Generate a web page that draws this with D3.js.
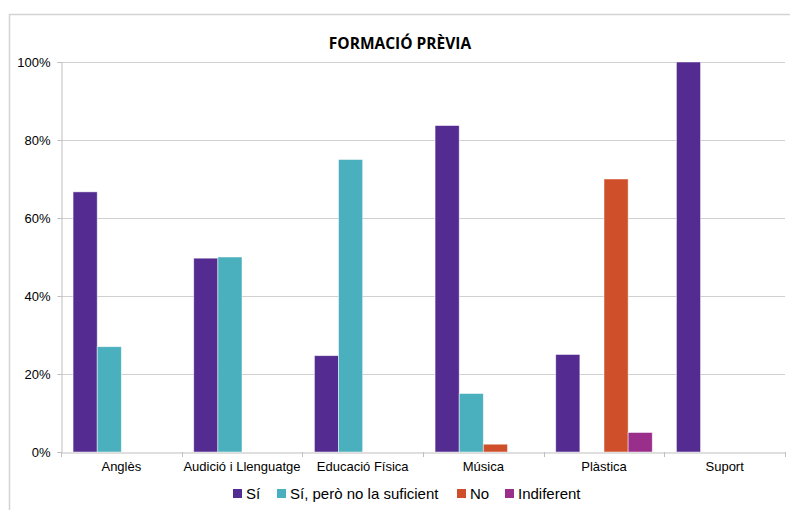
<!DOCTYPE html>
<html><head><meta charset="utf-8">
<script src="https://cdn.jsdelivr.net/npm/d3@7"></script>
<style>body{margin:0;background:#fff}svg{display:block}</style>
</head><body><svg id="c" width="790" height="510"></svg>
<script>
const categories = ["Anglès","Audició i Llenguatge","Educació Física","Música","Plàstica","Suport"];
const seriesNames = ["Sí","Sí, però no la suficient","No","Indiferent"];
const si =         [66.7, 49.7, 24.7, 83.7, 25, 100];
const siPeroNo =   [27,   50,   75,   15,   0,  0];
const no =         [0,    0,    0,    2,    70, 0];
const indiferent = [0,    0,    0,    0,    5,  0];
const yTicks = [0,20,40,60,80,100];
const colors = ["#532b91","#4bb0bd","#cf4f2b","#9a2f8b"];
const seriesValues = [si, siPeroNo, no, indiferent];

const svg = d3.select("#c");
// frame
svg.append("path").attr("d","M9.5,520V14.5H800").attr("fill","none").attr("stroke","#d4d4d4").attr("stroke-width",1.5);

const m = {l:61,r:785,t:62,b:452};
const x = d3.scaleBand().domain(categories).range([m.l,m.r]).paddingInner(0).paddingOuter(0);
const xs = d3.scaleBand().domain(seriesNames).range([0,x.bandwidth()]).paddingOuter(0.5).paddingInner(0);
const y = d3.scaleLinear().domain([0,100]).range([m.b,m.t]);

// gridlines
svg.append("g").selectAll("line").data(yTicks.filter(d=>d>0)).join("line")
  .attr("x1",m.l).attr("x2",m.r).attr("y1",d=>Math.round(y(d))+0.5).attr("y2",d=>Math.round(y(d))+0.5)
  .attr("stroke","#d0d0d0").attr("stroke-width",1);

// y axis
const ya = svg.append("g").attr("transform",`translate(${m.l+0.5},0)`)
  .call(d3.axisLeft(y).tickValues(yTicks).tickFormat(d=>d+"%").tickSize(4).tickPadding(7));
ya.select(".domain").attr("stroke","#bfbfbf");
ya.selectAll(".tick line").attr("stroke","#bfbfbf");
ya.selectAll("text").attr("font-family","Liberation Sans, Arial, sans-serif").attr("font-size",13).attr("fill","#000");

// bars
const g = svg.append("g");
seriesValues.forEach((vals,si_)=>{
  g.selectAll(null).data(categories.map((c,i)=>({c,v:vals[i]})).filter(d=>d.v>0)).join("rect")
    .attr("x",d=>x(d.c)+xs(seriesNames[si_]))
    .attr("width",xs.bandwidth())
    .attr("y",d=>y(d.v)).attr("height",d=>y(0)-y(d.v))
    .attr("fill",colors[si_]).attr("stroke","#fff").attr("stroke-opacity",0.6).attr("stroke-width",0.8);
});

// x axis
const xa = svg.append("g").attr("transform",`translate(0,${m.b+0.5})`)
  .call(d3.axisBottom(x).tickSize(0).tickPadding(9));
xa.select(".domain").attr("stroke","#bfbfbf");
xa.selectAll("text").attr("font-family","Liberation Sans, Arial, sans-serif").attr("font-size",13).attr("fill","#000");
// category boundary ticks
svg.append("g").selectAll("line").data(d3.range(categories.length+1)).join("line")
  .attr("x1",i=>Math.round(m.l+i*x.step())+0.5).attr("x2",i=>Math.round(m.l+i*x.step())+0.5)
  .attr("y1",m.b).attr("y2",m.b+5).attr("stroke","#bfbfbf");

// title
svg.append("text").attr("x",400).attr("y",49).attr("text-anchor","middle")
  .attr("font-family","Open Sans, sans-serif").attr("font-weight","bold").attr("font-size",15.5)
  .text("FORMACIÓ PRÈVIA");

// legend
const legX = [233,277,457,505];
const lg = svg.append("g");
seriesNames.forEach((n,i)=>{
  lg.append("rect").attr("x",legX[i]).attr("y",489).attr("width",9).attr("height",9).attr("fill",colors[i]);
  lg.append("text").attr("x",legX[i]+13).attr("y",499).attr("font-family","Liberation Sans, Arial, sans-serif")
    .attr("font-size",15).attr("fill","#000").text(n);
});
</script></body></html>
